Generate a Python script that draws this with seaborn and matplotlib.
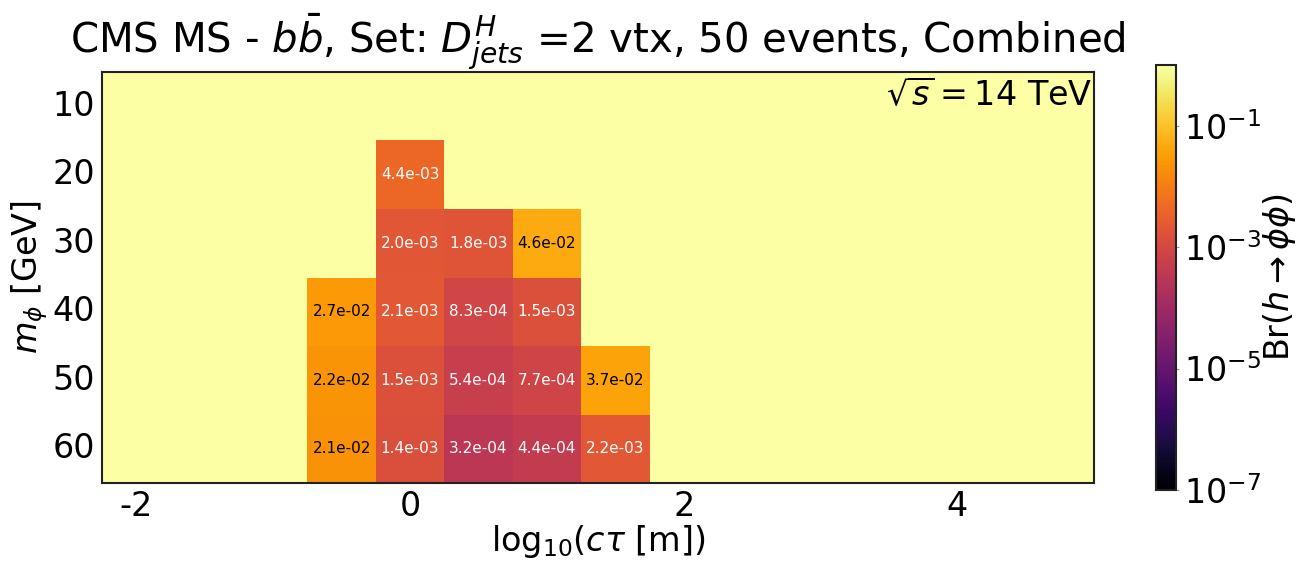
import numpy as np
import pandas as pd
import seaborn as sns
import matplotlib.pyplot as plt
from matplotlib.colors import LogNorm

# bin centres
log_ctau = [-2.0, -1.5, -1.0, -0.5, 0.0, 0.5, 1.0, 1.5, 2.0, 2.5, 3.0, 3.5, 4.0, 4.5]
m_phi = [10, 20, 30, 40, 50, 60]

# excluded Br(h -> phi phi) per mass row, only cells with a limit (log10 ctau -> value)
row_20 = {0.0: 4.4e-03}
row_30 = {0.0: 2.0e-03, 0.5: 1.8e-03, 1.0: 4.6e-02}
row_40 = {-0.5: 2.7e-02, 0.0: 2.1e-03, 0.5: 8.3e-04, 1.0: 1.5e-03}
row_50 = {-0.5: 2.2e-02, 0.0: 1.5e-03, 0.5: 5.4e-04, 1.0: 7.7e-04, 1.5: 3.7e-02}
row_60 = {-0.5: 2.1e-02, 0.0: 1.4e-03, 0.5: 3.2e-04, 1.0: 4.4e-04, 1.5: 2.2e-03}
rows = {10: {}, 20: row_20, 30: row_30, 40: row_40, 50: row_50, 60: row_60}

grid = pd.DataFrame(np.nan, index=m_phi, columns=log_ctau)
for m, r in rows.items():
    for x, v in r.items():
        grid.loc[m, x] = v

sns.set_style("white")
plt.rcParams['font.family'] = ['DejaVu Sans']
plt.rcParams['text.color'] = 'black'
plt.rcParams['axes.labelcolor'] = 'black'
plt.rcParams['xtick.color'] = 'black'
plt.rcParams['ytick.color'] = 'black'

fig = plt.figure(figsize=(13.09, 5.71), dpi=100)
ax = fig.add_axes([0.078, 0.154, 0.758, 0.720])
cax = fig.add_axes([0.883, 0.142, 0.0153, 0.744])

cmap = plt.get_cmap('inferno')
norm = LogNorm(vmin=1e-7, vmax=1)
ax.set_facecolor(cmap(1.0))

sns.heatmap(grid, ax=ax, cmap=cmap, norm=norm, annot=True, fmt=".1e",
            annot_kws={'fontsize': 11}, cbar_ax=cax)

# annotation colours: black on orange cells, white otherwise
for t in ax.texts:
    val = float(t.get_text())
    t.set_color('black' if val > 1e-2 else 'white')

# numeric axes on top of the heatmap grid (x edge starts at -2.25, bin width 0.5)
x0, dx = -2.25, 0.5
xt = [-2, 0, 2, 4]
ax.set_xticks([(v - x0) / dx for v in xt])
ax.set_xticklabels([str(v) for v in xt], rotation=0)
ax.set_xlim(0, (5.0 - x0) / dx)
ax.set_yticks([i + 0.5 for i in range(len(m_phi))])
ax.set_yticklabels([str(v) for v in m_phi], rotation=0)
ax.tick_params(labelsize=24, length=2, width=1, color='0.6', labelcolor='black', pad=3)

for s in ax.spines.values():
    s.set_visible(True)
    s.set_color('#222222')
    s.set_linewidth(1.5)

ax.set_xlabel(r'log$_{10}$($c\tau$ [m])', fontsize=24, labelpad=0, color='black')
ax.set_ylabel(r'$m_\phi$ [GeV]', fontsize=24, labelpad=2, color='black')
ax.set_title(r'CMS MS - $b\bar{b}$, Set: $D^H_{jets}$ =2 vtx, 50 events, Combined',
             fontsize=29, pad=14, color='black')
ax.text(0.998, 0.985, r'$\sqrt{s}=14$ TeV', transform=ax.transAxes,
        ha='right', va='top', fontsize=24, color='black')

cbar = ax.collections[0].colorbar
cbar.set_ticks([1e-7, 1e-5, 1e-3, 1e-1])
cbar.ax.tick_params(labelsize=24, length=2, color='0.6', labelcolor='black')
cbar.ax.minorticks_off()
cbar.set_label(r'Br$(h\rightarrow\phi\phi)$', fontsize=24, labelpad=0, color='black')
cbar.outline.set_visible(True)
cbar.outline.set_edgecolor('#222222')
cbar.outline.set_linewidth(1.5)

fig.savefig('out.png', dpi=100)
